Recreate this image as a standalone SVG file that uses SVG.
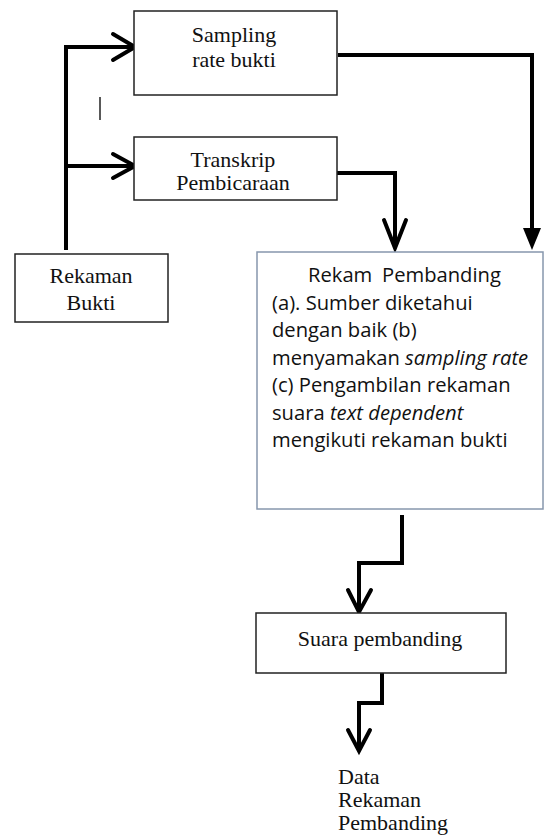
<svg xmlns="http://www.w3.org/2000/svg" width="544" height="837" viewBox="0 0 544 837">
<style>
.box{fill:#fff;stroke:#222;stroke-width:1.5}
.box2{fill:#fff;stroke:#8797ad;stroke-width:1.5}
.serif{font-family:"Liberation Serif","Times New Roman",serif;font-size:22px;fill:#111}
.sans{font-family:"Open Sans","Liberation Sans",sans-serif;font-size:20.2px;fill:#111}
.conn{fill:none;stroke:#000;stroke-width:4;stroke-linejoin:miter}
.chev{fill:none;stroke:#000;stroke-width:4;stroke-linecap:round;stroke-linejoin:miter}
</style>
<rect width="544" height="837" fill="#fff"/>
<g id="connectors">
  <path class="conn" d="M66 250 V47 H134"/>
  <path class="conn" d="M66 166 H134"/>
  <path class="chev" d="M113 34 L135 47 L113 60"/>
  <path class="chev" d="M113 154 L135 166 L113 178"/>
  <path class="conn" d="M338 55 H532 V230"/>
  <polygon points="523,228 541,228 532,250" fill="#000"/>
  <path class="conn" d="M333 173 H395 V248"/>
  <path class="chev" d="M384 220 L395 248 L406 220"/>
  <path class="conn" d="M402 515 V563 H359 V611"/>
  <path class="chev" d="M348 590 L359 612 L371 590"/>
  <path class="conn" d="M382 673 V703 H359 V751"/>
  <path class="chev" d="M348 730 L359 751 L370 730"/>
  <line x1="100" y1="97" x2="100" y2="120" stroke="#222" stroke-width="1.5"/>
</g>
<g id="sampling">
  <rect class="box" x="134" y="11" width="203" height="84"/>
  <text class="serif" x="234" y="42" text-anchor="middle">Sampling</text>
  <text class="serif" x="234" y="67" text-anchor="middle">rate bukti</text>
</g>
<g id="transkrip">
  <rect class="box" x="134" y="137" width="203" height="63"/>
  <text class="serif" x="233" y="166.5" text-anchor="middle">Transkrip</text>
  <text class="serif" x="233" y="189.5" text-anchor="middle">Pembicaraan</text>
</g>
<g id="rekaman-bukti">
  <rect class="box" x="15" y="254" width="153" height="68"/>
  <text class="serif" x="91" y="283" text-anchor="middle">Rekaman</text>
  <text class="serif" x="91" y="310" text-anchor="middle">Bukti</text>
</g>
<g id="rekam-pembanding">
  <rect class="box2" x="257" y="252" width="286" height="257"/>
  <text class="sans" x="308" y="282">Rekam</text>
  <text class="sans" x="382" y="282">Pembanding</text>
  <text class="sans" x="272" y="309.5">(a). Sumber diketahui</text>
  <text class="sans" x="272" y="337">dengan baik (b)</text>
  <text class="sans" x="272" y="364.5">menyamakan <tspan font-style="italic">sampling rate</tspan></text>
  <text class="sans" x="272" y="392">(c) Pengambilan rekaman</text>
  <text class="sans" x="272" y="419.5">suara <tspan font-style="italic">text dependent</tspan></text>
  <text class="sans" x="272" y="447">mengikuti rekaman bukti</text>
</g>
<g id="suara-pembanding">
  <rect class="box" x="256" y="613" width="250" height="60"/>
  <text class="serif" x="380" y="646" text-anchor="middle">Suara pembanding</text>
</g>
<g id="data-rekaman">
  <text class="serif" x="338" y="784">Data</text>
  <text class="serif" x="338" y="807">Rekaman</text>
  <text class="serif" x="338" y="830">Pembanding</text>
</g>
</svg>
